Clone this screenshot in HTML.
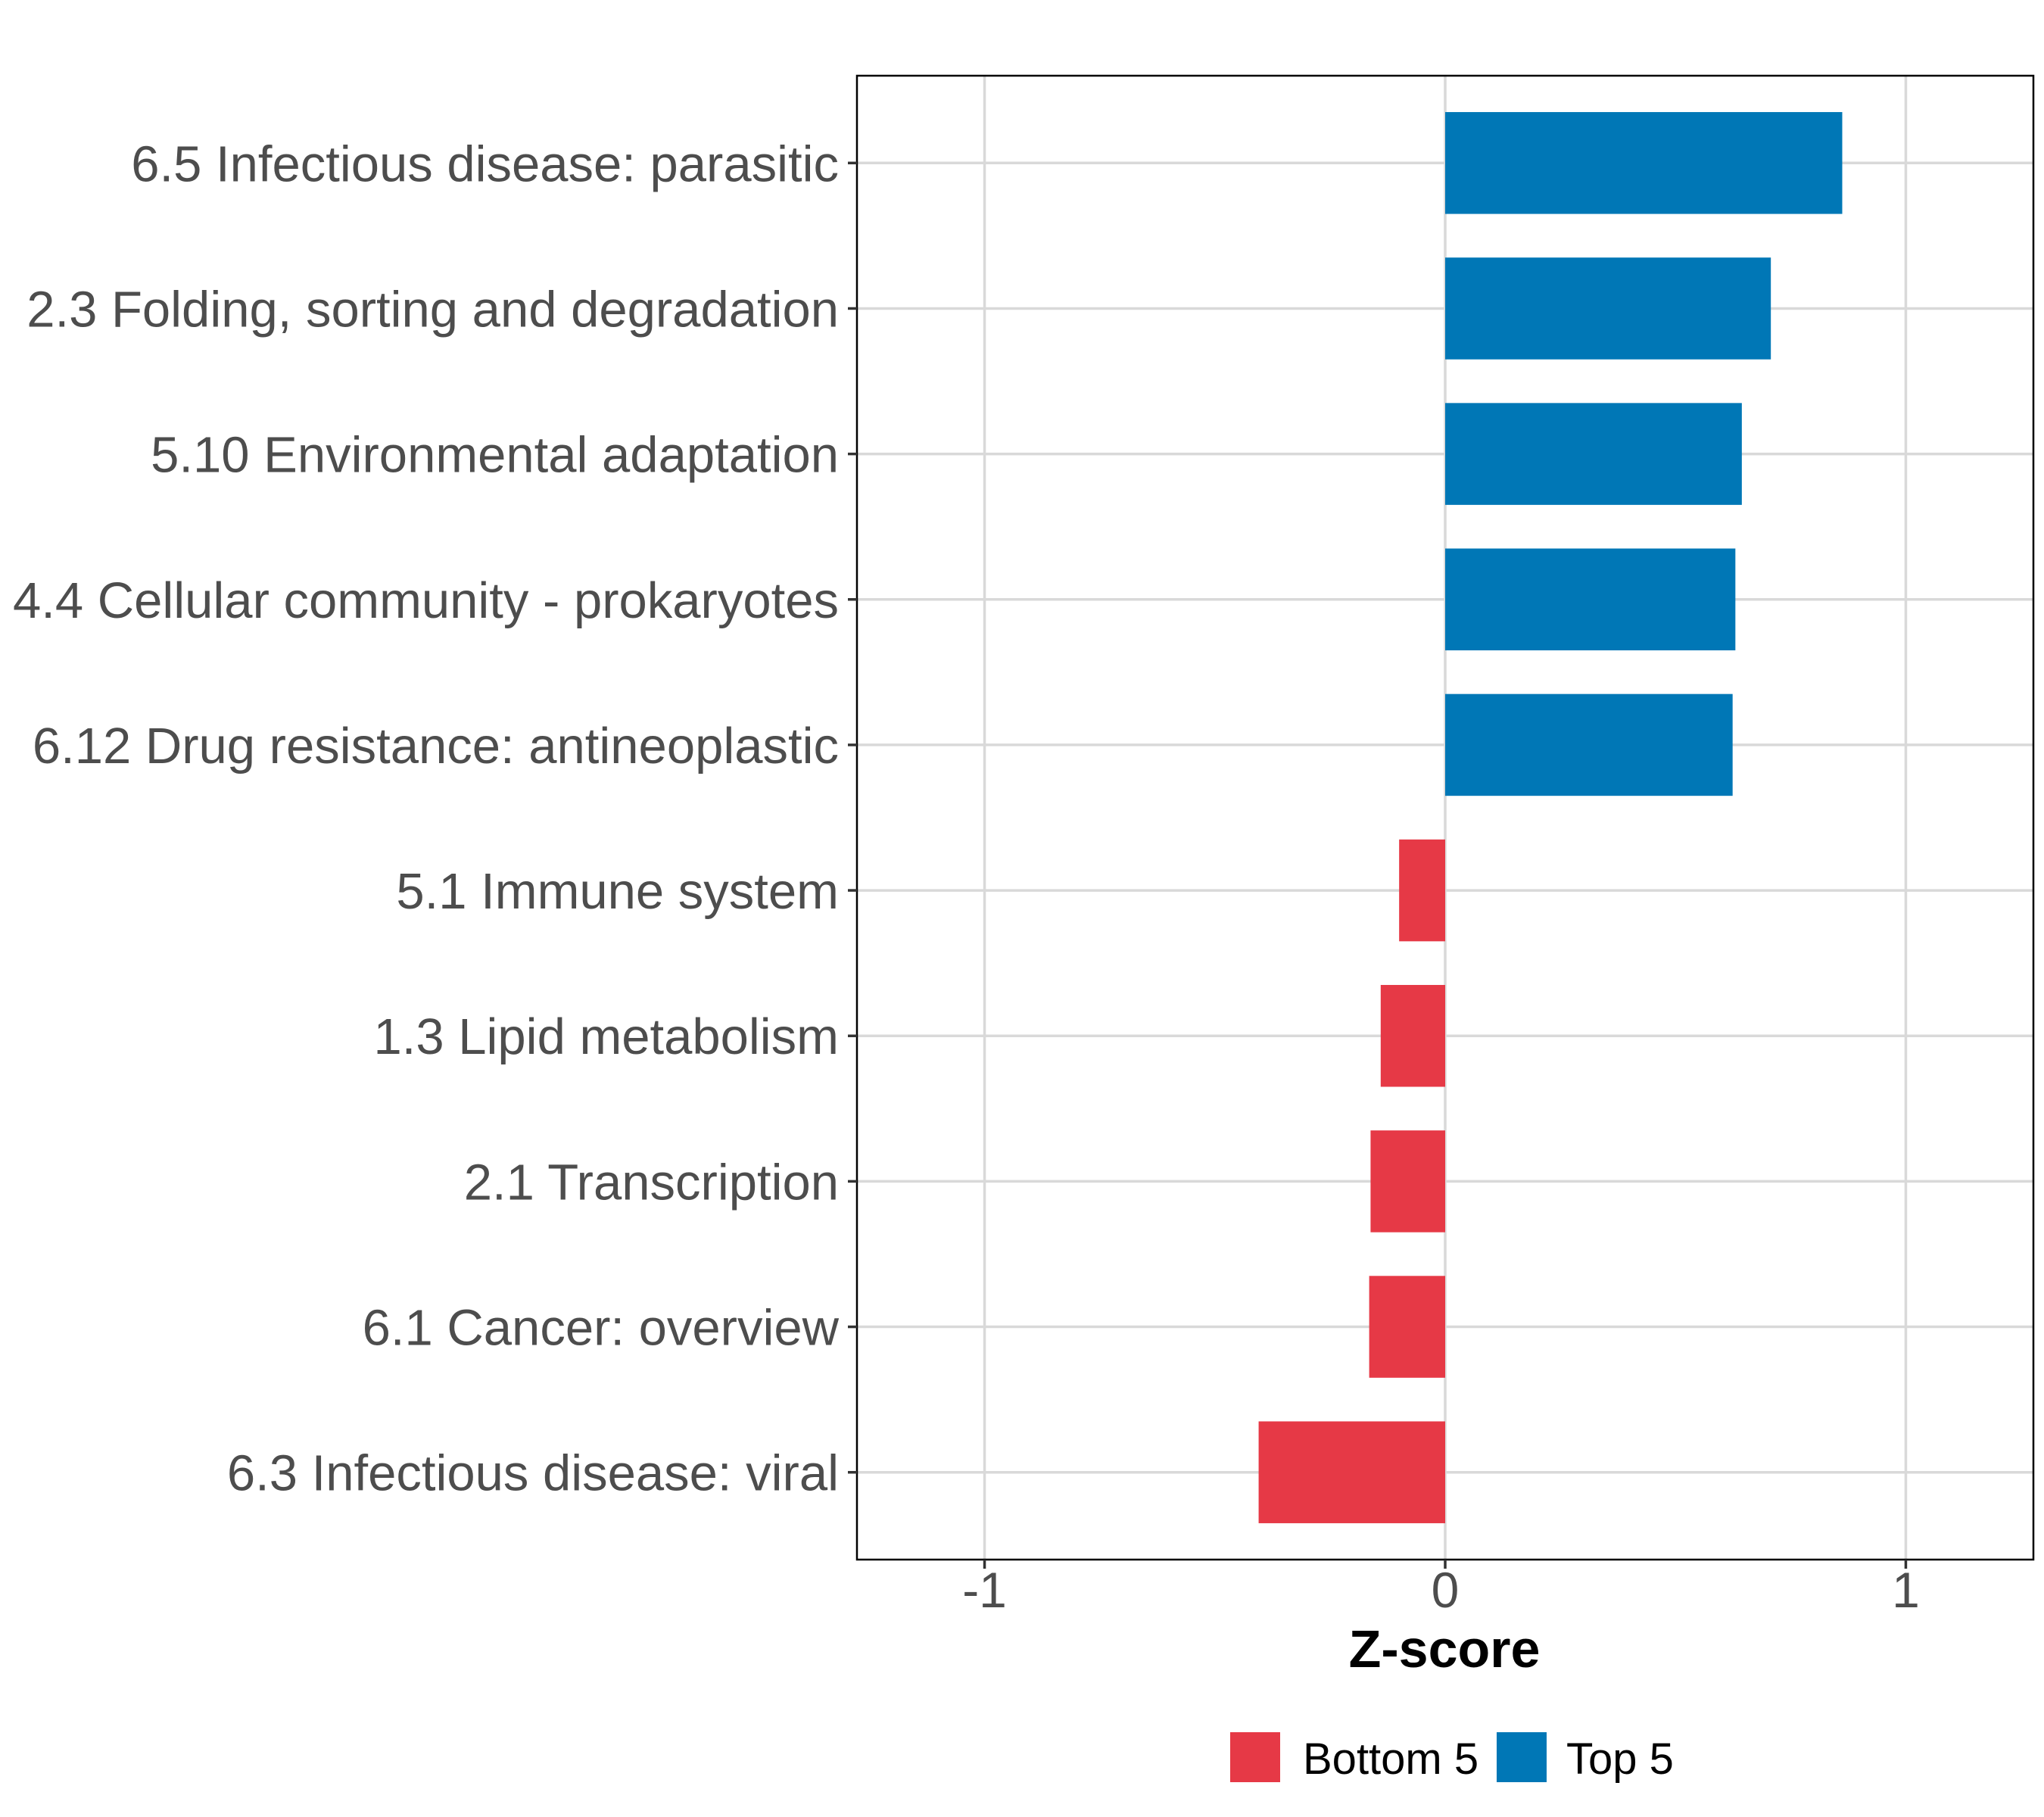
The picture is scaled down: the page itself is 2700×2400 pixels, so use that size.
<!DOCTYPE html>
<html><head><meta charset="utf-8"><style>
html,body{margin:0;padding:0;background:#fff;}
svg{display:block;font-family:"Liberation Sans",Arial,sans-serif;}
</style></head><body>
<svg id="chart" width="2700" height="2400" viewBox="0 0 2700 2400" xmlns="http://www.w3.org/2000/svg">
<rect x="0" y="0" width="2700" height="2400" fill="#fff"/>
<g id="grid"></g>
<g id="bars"></g>
<rect x="1132" y="100" width="1554" height="1960" fill="none" stroke="#000" stroke-width="2.5"/>
<g id="yaxis"></g>
<g id="xaxis"></g>
<text x="1908" y="2202" text-anchor="middle" font-size="70" font-weight="bold" fill="#000">Z-score</text>
<g>
<rect x="1625" y="2288" width="66" height="66" fill="#E63946"/>
<text x="1721" y="2343" font-size="58" fill="#000">Bottom 5</text>
<rect x="1977" y="2288" width="66" height="66" fill="#0077B6"/>
<text x="2069" y="2343" font-size="58" fill="#000">Top 5</text>
</g>
</svg>
<script>
const categories = ["6.5 Infectious disease: parasitic","2.3 Folding, sorting and degradation","5.10 Environmental adaptation","4.4 Cellular community - prokaryotes","6.12 Drug resistance: antineoplastic","5.1 Immune system","1.3 Lipid metabolism","2.1 Transcription","6.1 Cancer: overview","6.3 Infectious disease: viral"];
const zscores = [0.862, 0.707, 0.644, 0.630, 0.624, -0.100, -0.140, -0.162, -0.165, -0.405];
const groups = ["Top 5","Top 5","Top 5","Top 5","Top 5","Bottom 5","Bottom 5","Bottom 5","Bottom 5","Bottom 5"];
const xTicks = [-1, 0, 1];
const xTickLabels = ["-1", "0", "1"];

const NS = "http://www.w3.org/2000/svg";
const panel = {left:1132, right:2686, top:100, bottom:2060};
const xMin = -1.277, xMax = 1.277;
function xScale(v){ return panel.left + (v - xMin) / (xMax - xMin) * (panel.right - panel.left); }
const n = categories.length;
const band = (panel.bottom - panel.top) / (n - 1 + 1.2);
function yScale(i){ return panel.top + band * (0.6 + i); }
const colors = {"Top 5":"#0077B6","Bottom 5":"#E63946"};
function mk(tag, attrs){ const e = document.createElementNS(NS, tag); for (const k in attrs) e.setAttribute(k, attrs[k]); return e; }

const grid = document.getElementById('grid');
xTicks.forEach((t) => {
  const l = mk('line', {x1:xScale(t), x2:xScale(t), y1:panel.top, y2:panel.bottom, stroke:'#d9d9d9', 'stroke-width':3.5});
  
  
  grid.appendChild(l);
});
categories.forEach((c, i) => {
  const l = mk('line', {x1:panel.left, x2:panel.right, y1:yScale(i), y2:yScale(i), stroke:'#d9d9d9', 'stroke-width':3.5});
  
  
  grid.appendChild(l);
});

const bars = document.getElementById('bars');
zscores.forEach((v, i) => {
  const x0 = xScale(0), x1 = xScale(v);
  const h = band * 0.7;
  const r = mk('rect', {x:Math.min(x0, x1), y:yScale(i) - h/2, width:Math.abs(x1 - x0), height:h, fill:colors[groups[i]]});
  
  
  bars.appendChild(r);
});

const yaxis = document.getElementById('yaxis');
categories.forEach((c, i) => {
  const tk = mk('line', {x1:panel.left - 12, x2:panel.left, y1:yScale(i), y2:yScale(i), stroke:'#333', 'stroke-width':3.5});
  
  
  yaxis.appendChild(tk);
  const t = mk('text', {x:panel.left - 24, y:yScale(i) + 24, 'text-anchor':'end', 'font-size':67, fill:'#4d4d4d'});
  t.textContent = c;
  
  
  yaxis.appendChild(t);
});

const xaxis = document.getElementById('xaxis');
xTicks.forEach((v, i) => {
  const tk = mk('line', {x1:xScale(v), x2:xScale(v), y1:panel.bottom, y2:panel.bottom + 12, stroke:'#333', 'stroke-width':3.5});
  
  
  xaxis.appendChild(tk);
  const t = mk('text', {x:xScale(v), y:2123, 'text-anchor':'middle', 'font-size':66, fill:'#4d4d4d'});
  t.textContent = xTickLabels[i];
  
  
  xaxis.appendChild(t);
});
</script>
</body></html>
